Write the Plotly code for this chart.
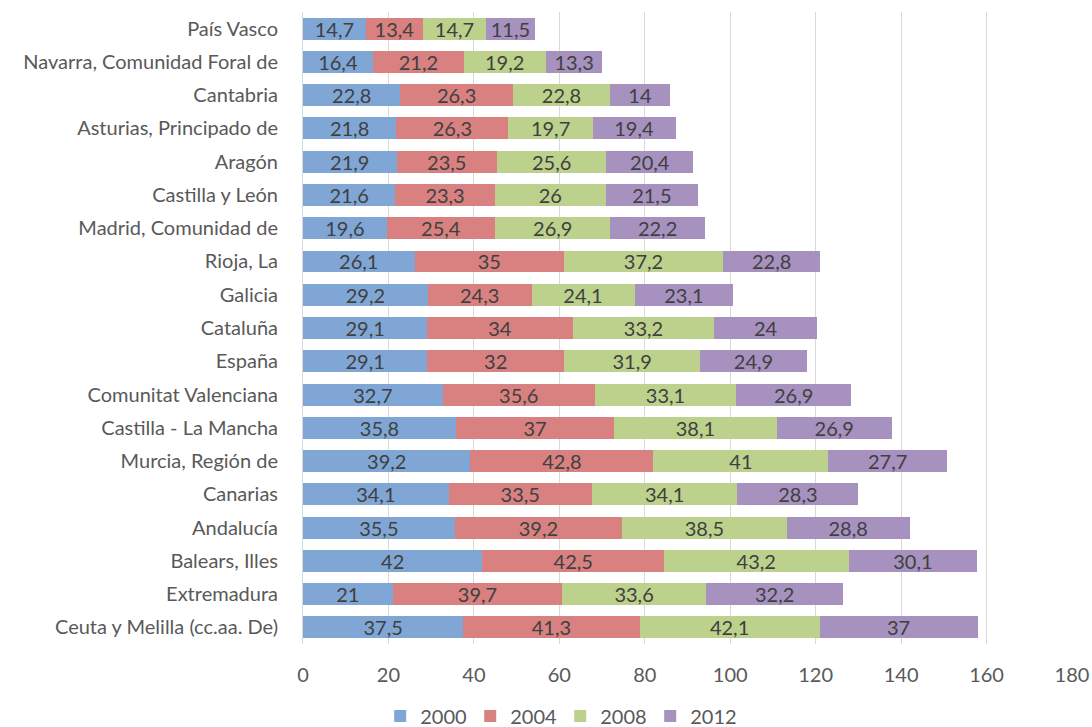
import plotly.graph_objects as go

regiones = ["País Vasco", "Navarra, Comunidad Foral de", "Cantabria",
            "Asturias, Principado de", "Aragón", "Castilla y León",
            "Madrid, Comunidad de", "Rioja, La", "Galicia", "Cataluña",
            "España", "Comunitat Valenciana", "Castilla - La Mancha",
            "Murcia, Región de", "Canarias", "Andalucía", "Balears, Illes",
            "Extremadura", "Ceuta y Melilla (cc.aa. De)"]

v2000 = [14.7, 16.4, 22.8, 21.8, 21.9, 21.6, 19.6, 26.1, 29.2, 29.1,
         29.1, 32.7, 35.8, 39.2, 34.1, 35.5, 42, 21, 37.5]
v2004 = [13.4, 21.2, 26.3, 26.3, 23.5, 23.3, 25.4, 35, 24.3, 34,
         32, 35.6, 37, 42.8, 33.5, 39.2, 42.5, 39.7, 41.3]
v2008 = [14.7, 19.2, 22.8, 19.7, 25.6, 26, 26.9, 37.2, 24.1, 33.2,
         31.9, 33.1, 38.1, 41, 34.1, 38.5, 43.2, 33.6, 42.1]
v2012 = [11.5, 13.3, 14, 19.4, 20.4, 21.5, 22.2, 22.8, 23.1, 24,
         24.9, 26.9, 26.9, 27.7, 28.3, 28.8, 30.1, 32.2, 37]

series = [("2000", v2000, "#7FA6D5"),
          ("2004", v2004, "#D88180"),
          ("2008", v2008, "#BCD18C"),
          ("2012", v2012, "#A691BF")]

FONT = "Lato, Noto Sans, sans-serif"


def etiqueta(v):
    return str(v).replace(".", ",")


fig = go.Figure()
for nombre, vals, color in series:
    fig.add_trace(go.Bar(
        y=regiones, x=vals, name=nombre, orientation="h",
        marker=dict(color=color, line=dict(width=0)),
        text=[etiqueta(v) for v in vals],
        textposition="inside", insidetextanchor="middle",
        textangle=0, constraintext="none",
        textfont=dict(color="#404040", size=20, family=FONT),
        cliponaxis=False,
    ))

fig.update_layout(
    barmode="stack",
    bargap=0.34,
    width=1092, height=727,
    margin=dict(l=303, r=20, t=12, b=83, autoexpand=False),
    plot_bgcolor="white", paper_bgcolor="white",
    font=dict(family=FONT, size=20, color="#595959"),
    legend=dict(orientation="h", xref="container", x=0.513, xanchor="center",
                y=-0.083, yanchor="top", font=dict(size=20, color="#595959"),
                itemwidth=30, entrywidth=45, traceorder="normal"),
    xaxis=dict(range=[0, 180], dtick=20, showgrid=True, gridcolor="#D9D9D9",
               gridwidth=1, zeroline=False, ticks="", tickfont=dict(size=20),
               ticklabelstandoff=17, automargin=False),
    yaxis=dict(autorange="reversed", showgrid=False, showline=True,
               linecolor="#D9D9D9", ticks="", ticklabelstandoff=20,
               tickfont=dict(size=20), automargin=False),
)

# quitar el margen por defecto del body para que el grafico empiece en 0,0
fig.write_html("out.html", config={"displayModeBar": False},
               post_script="document.body.style.margin='0';")
